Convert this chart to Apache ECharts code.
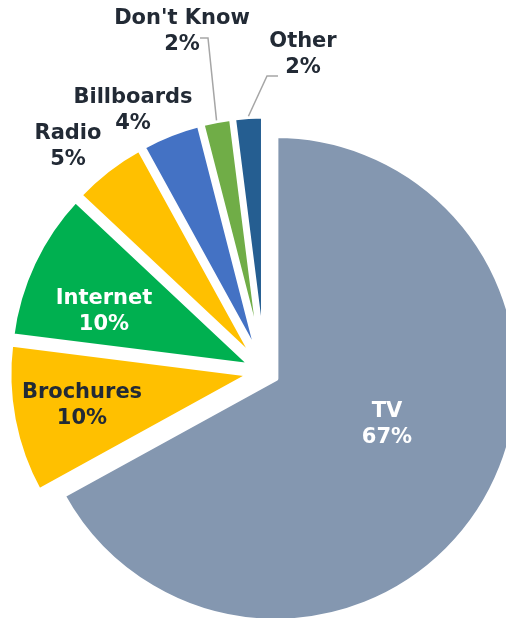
<!DOCTYPE html>
<html>
<head>
<meta charset="utf-8">
<script src="https://cdn.jsdelivr.net/npm/echarts@6/dist/echarts.min.js"></script>
<style>
  html, body { margin: 0; padding: 0; background: #ffffff; }
  #chart { width: 506px; height: 618px; }
</style>
</head>
<body>
<div id="chart"></div>
<script>
// Media channels and their share of responses (%)
const categories = ['TV', 'Brochures', 'Internet', 'Radio', 'Billboards', "Don't Know", 'Other'];
const shares = [67, 10, 10, 5, 4, 2, 2];

// Slice fills, in category order
const palette = ['#8497B0', '#FFC000', '#00B050', '#FFC000', '#4472C4', '#70AD47', '#255E91'];
// Label text colours, in category order
const labelInk = ['#ffffff', '#222A35', '#ffffff', '#222A35', '#222A35', '#222A35', '#222A35'];
// Which labels get a leader line
const leader = [false, false, false, false, false, true, true];

// Where each label block is centred
const labelSpot = {
  'TV': [387, 425],
  'Brochures': [82, 406],
  'Internet': [104, 312],
  'Radio': [68, 147],
  'Billboards': [133, 111],
  "Don't Know": [182, 32],
  'Other': [303, 55]
};
// Elbow points of the leader lines (after the slice edge point)
const leaderBend = {
  "Don't Know": [[208, 38], [200, 38]],
  'Other': [[267, 76], [278, 76]]
};

const CENTER = [264.5, 371.8];
const RADIUS = 243;
const EXPLODE = 13;

const chart = echarts.init(document.getElementById('chart'), null, { renderer: 'canvas' });

// Exploded slices
const sliceData = categories.map((name, i) => ({
  name: name,
  value: shares[i],
  selected: true,
  itemStyle: { color: palette[i] }
}));

// Transparent twin that carries the labels and leader lines
const labelData = categories.map((name, i) => ({
  name: name,
  value: shares[i],
  label: { color: labelInk[i] },
  labelLine: { show: leader[i] }
}));

chart.setOption({
  animation: false,
  backgroundColor: '#ffffff',
  series: [{
    type: 'pie',
    center: CENTER,
    radius: RADIUS,
    startAngle: 90,
    clockwise: true,
    selectedMode: 'multiple',
    selectedOffset: EXPLODE,
    itemStyle: { borderColor: '#ffffff', borderWidth: 5.4 },
    select: { itemStyle: { borderColor: '#ffffff', borderWidth: 5.4 } },
    emphasis: { disabled: true },
    label: { show: false },
    labelLine: { show: false },
    data: sliceData
  }, {
    type: 'pie',
    center: CENTER,
    radius: RADIUS,
    startAngle: 90,
    clockwise: true,
    silent: true,
    avoidLabelOverlap: false,
    z: 3,
    itemStyle: { color: 'rgba(0,0,0,0)', borderWidth: 0 },
    emphasis: { disabled: true },
    label: {
      show: true,
      position: 'outside',
      fontFamily: 'DejaVu Sans',
      fontWeight: 'bold',
      fontSize: 21,
      lineHeight: 26,
      align: 'center',
      formatter: p => p.name + '\n' + p.value + '%'
    },
    labelLine: {
      show: false,
      length: 20,
      length2: 10,
      smooth: false,
      lineStyle: { color: '#A6A6A6', width: 1.5 }
    },
    labelLayout: function (params) {
      const name = categories[params.dataIndex];
      const spot = labelSpot[name];
      const out = {
        x: spot[0],
        y: spot[1],
        align: 'center',
        verticalAlign: 'middle'
      };
      if (leaderBend[name] && params.labelLinePoints) {
        // start the leader on the exploded rim of the slice
        const p0 = params.labelLinePoints[0];
        const vx = p0[0] - CENTER[0], vy = p0[1] - CENTER[1];
        const len = Math.sqrt(vx * vx + vy * vy);
        const k = (len + EXPLODE) / len;
        const start = [CENTER[0] + vx * k, CENTER[1] + vy * k];
        out.labelLinePoints = [start].concat(leaderBend[name]);
      }
      return out;
    },
    data: labelData
  }]
});
</script>
</body>
</html>
